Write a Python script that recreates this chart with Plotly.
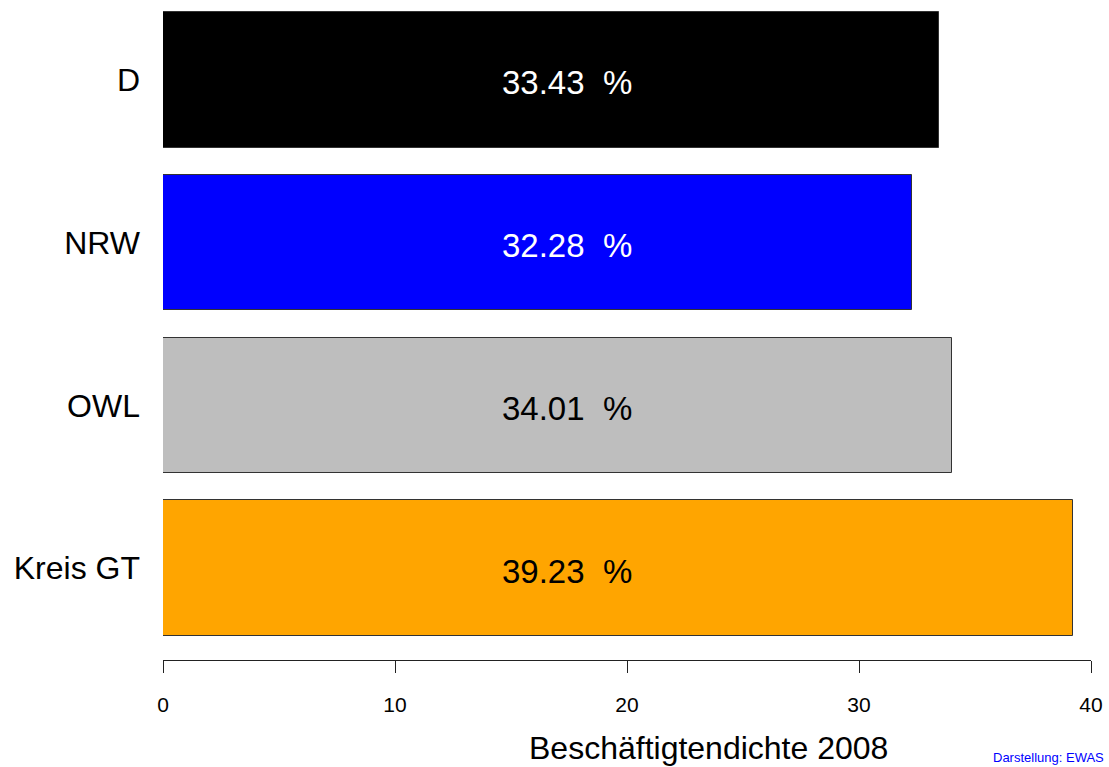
import plotly.graph_objects as go

categories = ["Kreis GT", "OWL", "NRW", "D"]
values = [39.23, 34.01, 32.28, 33.43]
bar_colors = ["#FFA500", "#BEBEBE", "#0000FF", "#000000"]
label_colors = ["black", "black", "white", "white"]
x_ticks = [0, 10, 20, 30, 40]
x_title = "Beschäftigtendichte 2008"
credit = "Darstellung: EWAS"

FONT = "Liberation Sans, Arial, sans-serif"

W, H = 1109, 767
ml, mr, mt, mb = 163, 18, 0, H - 660
pw, ph = W - ml - mr, H - mt - mb


def px_to_paper(px, py):
    return (px - ml) / pw, (H - mb - py) / ph


fig = go.Figure()
fig.add_trace(go.Bar(
    y=list(range(len(categories))),
    x=values,
    orientation="h",
    width=0.833,
    marker=dict(color=bar_colors, line=dict(color="#333333", width=1)),
    hoverinfo="skip",
))

for i, (v, c) in enumerate(zip(values, label_colors)):
    fig.add_annotation(
        x=17.4, y=i, xref="x", yref="y",
        text=f"{v:.2f}  %", showarrow=False, yshift=-3,
        font=dict(family=FONT, size=33, color=c),
    )

tx, ty = px_to_paper(708, 748)
fig.add_annotation(
    x=tx, y=ty, xref="paper", yref="paper", text=x_title, showarrow=False,
    yanchor="middle",
    font=dict(family=FONT, size=32, color="black"),
)
cx, cy = px_to_paper(1106, 757)
fig.add_annotation(
    x=cx, y=cy, xref="paper", yref="paper", text=credit, showarrow=False,
    xanchor="right", yanchor="middle",
    font=dict(family=FONT, size=13, color="#0000FF"),
)

fig.update_layout(
    width=W, height=H,
    margin=dict(l=ml, r=mr, t=mt, b=mb, pad=0),
    plot_bgcolor="white", paper_bgcolor="white",
    showlegend=False,
    bargap=0,
    xaxis=dict(
        range=[0, 40], tickvals=x_ticks, ticktext=[str(t) for t in x_ticks],
        showgrid=False, zeroline=False, showline=True, linecolor="#222222", linewidth=1,
        ticks="outside", ticklen=12, tickcolor="#222222", tickwidth=1,
        ticklabelstandoff=14,
        tickfont=dict(family=FONT, size=21, color="black"),
    ),
    yaxis=dict(
        range=[-(660 - 568) / 162.7, 3 + 80 / 162.7],
        tickvals=list(range(len(categories))), ticktext=categories,
        showgrid=False, zeroline=False, showline=False, ticks="",
        ticklabelstandoff=22,
        tickfont=dict(family=FONT, size=32, color="black"),
    ),
)

fig.write_html(
    "out.html",
    config={"displayModeBar": False},
    post_script="document.body.style.margin='0';document.body.style.overflow='hidden';",
)
